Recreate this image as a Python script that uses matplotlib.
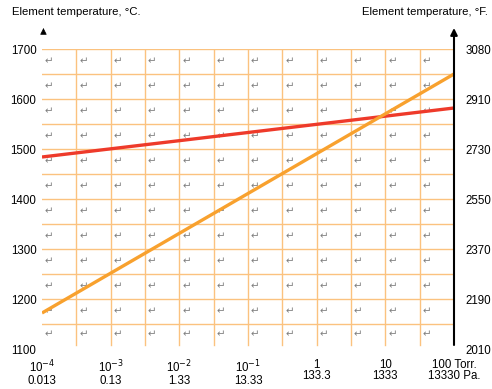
import numpy as np
import matplotlib.pyplot as plt

plt.rcParams['font.family'] = ['Liberation Sans', 'DejaVu Sans']

# pressure decades (Torr) and their Pa equivalents
torr = [1e-4, 1e-3, 1e-2, 1e-1, 1, 10, 100]
torr_labels = ['10$^{-4}$', '10$^{-3}$', '10$^{-2}$', '10$^{-1}$', '1', '10', '100 Torr.']
pa_labels = ['0.013', '0.13', '1.33', '13.33', '133.3', '1333', '13330 Pa.']

c_ticks = [1100, 1200, 1300, 1400, 1500, 1600, 1700]
f_labels = ['2010', '2190', '2370', '2550', '2730', '2910', '3080']

# two element curves, temperature (°C) at 1e-4 and 100 Torr
red_x = [1e-4, 100]
red_y = [1484, 1582]
orange_x = [1e-4, 100]
orange_y = [1172, 1650]

grid_c = '#fbc27f'

fig = plt.figure(figsize=(4.92, 3.89), dpi=100)
W, H = 492, 389
ax = fig.add_axes([42 / W, (H - 349) / H, (454 - 42) / W, 300 / H])
ax.set_xscale('log')
ax.set_xlim(1e-4, 100)
ax.set_ylim(1100, 1700)

# table-like grid
for y in np.arange(1150, 1701, 50):
    ax.plot([1e-4, 100], [y, y], color=grid_c, lw=1, zorder=1)
for k in range(1, 12):
    xv = 10 ** (-4 + k / 2)
    ax.plot([xv, xv], [1108, 1700], color=grid_c, lw=1, zorder=1)

# paragraph marks in every cell
for i in range(12):
    for j in range(12):
        xv = 10 ** (-4 + i / 2 + 0.04)
        yv = 1700 - 50 * j - 25
        if j == 11:
            yv = 1129
        ax.text(xv, yv, '\u21b5', fontsize=7.5, color='#808080', va='center',
                ha='left', family='DejaVu Sans', zorder=2)

ax.plot(red_x, red_y, color='#ee3a2a', lw=2.4, solid_capstyle='butt', zorder=3)
ax.plot(orange_x, orange_y, color='#f8a12e', lw=2.4, solid_capstyle='butt', zorder=3)

# right axis line with arrow
ax.annotate('', xy=(100, 1742), xytext=(100, 1108),
            arrowprops=dict(arrowstyle='-|>', color='black', lw=1.5,
                            mutation_scale=10, shrinkA=0, shrinkB=0),
            annotation_clip=False)
ax.annotate('', xy=(1e-4 * 1.05, 1742), xytext=(1e-4 * 1.05, 1734),
            arrowprops=dict(arrowstyle='-|>', color='black', lw=0.5,
                            mutation_scale=10, shrinkA=0, shrinkB=0),
            annotation_clip=False)

for s in ax.spines.values():
    s.set_visible(False)

ax.set_yticks(c_ticks)
ax.set_yticklabels(c_ticks, fontsize=8.3)
ax.tick_params(axis='y', length=0, pad=4)
ax.set_xticks(torr)
ax.set_xticklabels([a + '\n' + b for a, b in zip(torr_labels, pa_labels)],
                   fontsize=8.3, linespacing=0.95)
ax.minorticks_off()
ax.tick_params(axis='x', length=0, pad=7)

ax2 = ax.twinx()
ax2.set_ylim(1100, 1700)
ax2.set_yticks(c_ticks)
ax2.set_yticklabels(f_labels, fontsize=8.3)
ax2.tick_params(axis='y', length=0, pad=8)
for s in ax2.spines.values():
    s.set_visible(False)

fig.text(12 / W, 1 - 12 / H, 'Element temperature, °C.', fontsize=8.2, va='center', ha='left')
fig.text(488 / W, 1 - 12 / H, 'Element temperature, °F.', fontsize=8.2, va='center', ha='right')

fig.savefig('out.png', dpi=100)
